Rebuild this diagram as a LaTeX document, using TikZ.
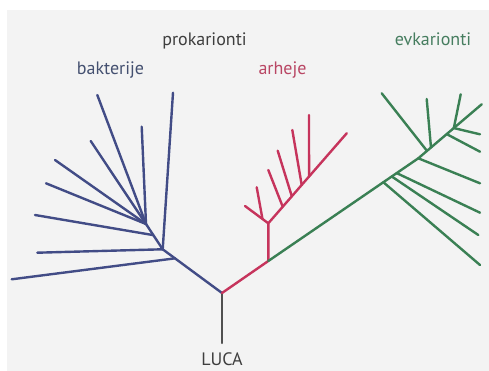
\documentclass[tikz,border=0pt]{standalone}
\usepackage{fontspec}
\setmainfont{PT Sans}
\usetikzlibrary{calc}
\definecolor{paper}{RGB}{243,243,243}
\definecolor{bacblue}{RGB}{66,76,134}
\definecolor{arcred}{RGB}{198,52,92}
\definecolor{eukgreen}{RGB}{58,128,84}
\definecolor{stemgray}{RGB}{80,80,80}
\definecolor{txtgray}{RGB}{62,62,62}
\definecolor{txtblue}{RGB}{68,80,112}
\definecolor{txtred}{RGB}{185,70,100}
\definecolor{txtgreen}{RGB}{70,125,95}
\tikzset{
  branch/.style={line width=2.4pt, line cap=round, line join=round},
  bac/.style={branch, draw=bacblue},
  arc/.style={branch, draw=arcred},
  euk/.style={branch, draw=eukgreen},
  stem/.style={branch, draw=stemgray},
  label/.style={font=\fontsize{18}{20}\selectfont, inner sep=0pt, anchor=base},
}
\begin{document}
\begin{tikzpicture}[x=1pt, y=-1pt]
  % page and paper
  \useasboundingbox (0,0) rectangle (489,371);
  \fill[white] (0,0) rectangle (489,371);
  \fill[paper] (7,10) rectangle (489,371);

  % root and stem
  \coordinate (root) at (222,293);
  \coordinate (stemend) at (222,343);
  \node[label, text=txtgray] (luca) at (222,365) {LUCA};
  \draw[stem] (root) -- (stemend);

  % bacteria
  \coordinate (bj2) at (162.7,249.3);
  \coordinate (bj4) at (146,224);
  \coordinate (bj1) at ($(root)!0.793!(bj2)$);
  \coordinate (bj3) at ($(bj2)!0.56!(bj4)$);
  \coordinate (b1) at (11.7,279.3);
  \coordinate (b2) at (37.3,252.7);
  \coordinate (b3) at (35,215);
  \coordinate (b4) at (46,183.3);
  \coordinate (b5) at (55,160);
  \coordinate (b6) at (90.7,141);
  \coordinate (b7) at (97.3,95);
  \coordinate (b8) at (141.7,126.7);
  \coordinate (b9) at (173,92.7);
  \draw[bac] (root) -- (bj2) -- (bj4);
  \draw[bac] (bj1) -- (b1);
  \draw[bac] (bj2) -- (b2);
  \draw[bac] (bj3) -- (b3);
  \foreach \e in {b4,b5,b6,b7,b8} \draw[bac] (bj4) -- (\e);
  \draw[bac] (bj2) -- (b9);

  % archaea
  \coordinate (aj0) at (268.3,261);
  \coordinate (aj1) at (268.3,223.3);
  \coordinate (al) at (245,206);
  \coordinate (am) at (346.7,133.3);
  \draw[arc] (root) -- (aj0) -- (aj1) -- (am);
  \draw[arc] (aj1) -- (al);
  \coordinate (a1b) at ($(aj1)!0.25!(al)$);
  \coordinate (a1) at (256.7,187.3);
  \draw[arc] (a1b) -- (a1);
  \coordinate (a2b) at ($(aj1)!0.184!(am)$);
  \coordinate (a2) at (268.3,170);
  \coordinate (a3b) at ($(aj1)!0.30!(am)$);
  \coordinate (a3) at (277.7,150.7);
  \coordinate (a4b) at ($(aj1)!0.426!(am)$);
  \coordinate (a4) at (292.3,130);
  \coordinate (a5b) at ($(aj1)!0.52!(am)$);
  \coordinate (a5) at (309,115);
  \foreach \i in {2,3,4,5} \draw[arc] (a\i b) -- (a\i);

  % eukaryotes
  \coordinate (ek1) at (418.3,158.3);
  \coordinate (em) at (481.7,104.3);
  \draw[euk] (aj0) -- (ek1) -- (em);
  \coordinate (e1b) at ($(aj0)!0.767!(ek1)$);
  \coordinate (e2b) at ($(aj0)!0.823!(ek1)$);
  \coordinate (e3b) at ($(aj0)!0.856!(ek1)$);
  \coordinate (e5b) at ($(ek1)!0.137!(em)$);
  \coordinate (e6b) at ($(ek1)!0.2!(em)$);
  \coordinate (e7b) at ($(ek1)!0.448!(em)$);
  \coordinate (e8b) at ($(ek1)!0.56!(em)$);
  \coordinate (e1) at (480,265);
  \coordinate (e2) at (478.3,235);
  \coordinate (e3) at (480,212.7);
  \coordinate (e4) at (480,183.3);
  \coordinate (e5) at (381.7,93.3);
  \coordinate (e6) at (426.7,99);
  \coordinate (e7) at (480,151.7);
  \coordinate (e8) at (480,134.3);
  \coordinate (e9) at (460.7,94.3);
  \draw[euk] (e1b) -- (e1);
  \draw[euk] (e2b) -- (e2);
  \draw[euk] (e3b) -- (e3);
  \draw[euk] (ek1) -- (e4);
  \draw[euk] (e5b) -- (e5);
  \draw[euk] (e6b) -- (e6);
  \draw[euk] (e7b) -- (e7);
  \draw[euk] (e8b) -- (e8);
  \draw[euk] (e8b) -- (e9);

  % group labels
  \node[label, text=txtgray] (prok) at (204.5,45.5) {prokarionti};
  \node[label, text=txtblue] (bakt) at (110.5,75) {bakterije};
  \node[label, text=txtred] (arhe) at (282.5,75) {arheje};
  \node[label, text=txtgreen] (evk) at (433,45.5) {evkarionti};
\end{tikzpicture}
\end{document}
